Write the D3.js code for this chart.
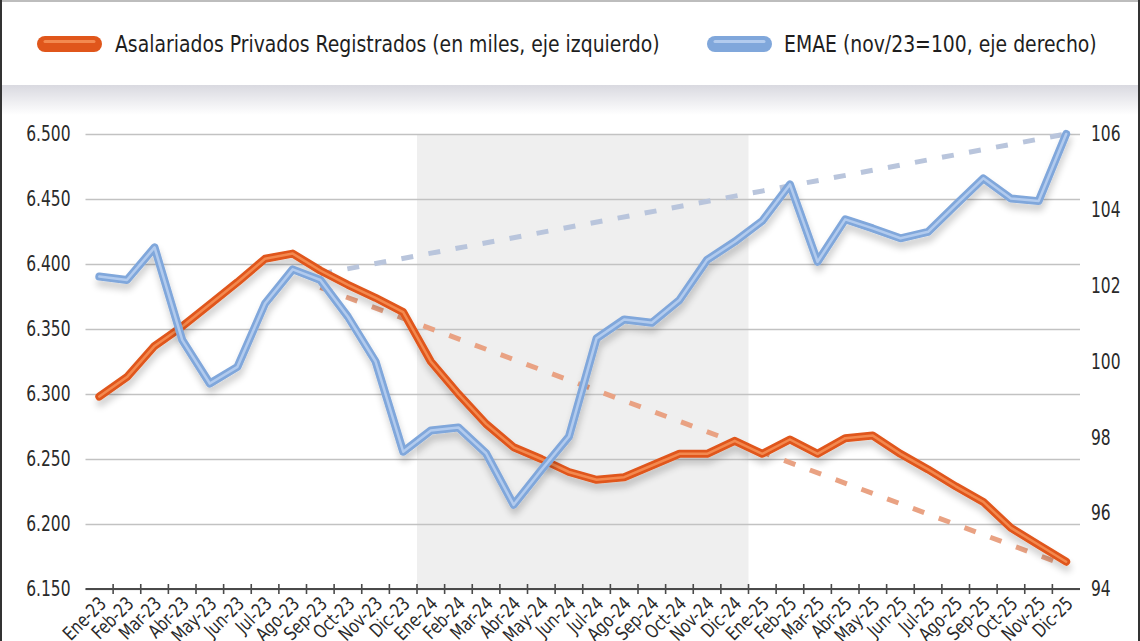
<!DOCTYPE html>
<html>
<head>
<meta charset="utf-8">
<script src="https://cdn.jsdelivr.net/npm/d3@7"></script>
<style>
  body { margin: 0; background: #fff; }
  svg { display: block; font-family: "Liberation Sans Narrow", "DejaVu Sans Condensed", sans-serif; }
</style>
</head>
<body>
<svg id="chart"></svg>
<script>
// Asalariados privados registrados vs EMAE

const categorias = [
    "Ene-23", "Feb-23", "Mar-23", "Abr-23", "May-23", "Jun-23", "Jul-23", "Ago-23", "Sep-23", "Oct-23", "Nov-23", "Dic-23",
    "Ene-24", "Feb-24", "Mar-24", "Abr-24", "May-24", "Jun-24", "Jul-24", "Ago-24", "Sep-24", "Oct-24", "Nov-24", "Dic-24",
    "Ene-25", "Feb-25", "Mar-25", "Abr-25", "May-25", "Jun-25", "Jul-25", "Ago-25", "Sep-25", "Oct-25", "Nov-25", "Dic-25"
]

// en miles (eje izquierdo)
const asalariados = [
    6298, 6313, 6337, 6352, 6369, 6386, 6404, 6408, 6395, 6384, 6374, 6363,
    6325, 6300, 6277, 6259, 6250, 6240, 6234, 6236, 6245, 6254, 6254, 6264,
    6254, 6265, 6254, 6266, 6268, 6254, 6242, 6229, 6217, 6197, 6184, 6171
]

// nov/23 = 100 (eje derecho)
const emae = [
    102.24, 102.15, 103.01, 100.57, 99.42, 99.86, 101.53, 102.43, 102.15, 101.18, 100.0, 97.62,
    98.18, 98.26, 97.58, 96.22, 97.14, 98.02, 100.61, 101.11, 101.02, 101.62, 102.68, 103.16,
    103.71, 104.67, 102.63, 103.75, 103.51, 103.25, 103.42, 104.13, 104.83, 104.30, 104.23, 106.0
]

// lineas de tendencia punteadas (inicio, fin)
const tendenciaAsalariados = [{ cat: "Sep-23", value: 6382 }, { cat: "Dic-25", value: 6168 }]
const tendenciaEmae = [{ cat: "Sep-23", value: 102.31 }, { cat: "Dic-25", value: 106.0 }]

// periodo sombreado
const sombreado = ["Ene-24", "Dic-24"]

const ticksIzq = [6150, 6200, 6250, 6300, 6350, 6400, 6450, 6500]
const ticksDer = [94, 96, 98, 100, 102, 104, 106]

const leyenda = [
    { label: "Asalariados Privados Registrados (en miles, eje izquierdo)", color: "#E0561B", core: "#F3894F" },
    { label: "EMAE (nov/23=100, eje derecho)", color: "#80A7DB", core: "#B2CBEE" }
]

// Definiciones
let svgWidth = 1140
let svgHeight = 641
let plot = { left: 85.5, right: 1080, top: 134, bottom: 589 }

const svg = d3.select("#chart")
    .attr("width", svgWidth)
    .attr("height", svgHeight)

const fmtES = d3.formatLocale({ decimal: ",", thousands: ".", grouping: [3], currency: ["$", ""] }).format(",d")

// la fuente del original es condensada: se comprime el texto horizontalmente
function condensar(sel, factor) {
    sel.each(function () {
        const w = this.getComputedTextLength()
        d3.select(this).attr("textLength", w * factor).attr("lengthAdjust", "spacingAndGlyphs")
    })
}

// sombra de las lineas
const defs = svg.append("defs")
const filtro = defs.append("filter").attr("id", "sombra")
    .attr("x", "-5%").attr("y", "-20%").attr("width", "110%").attr("height", "150%")
filtro.append("feGaussianBlur").attr("in", "SourceAlpha").attr("stdDeviation", 3.5).attr("result", "blur")
filtro.append("feOffset").attr("in", "blur").attr("dx", 1).attr("dy", 6).attr("result", "off")
filtro.append("feComponentTransfer").attr("in", "off").attr("result", "sh")
    .append("feFuncA").attr("type", "linear").attr("slope", 0.2)
const merge = filtro.append("feMerge")
merge.append("feMergeNode").attr("in", "sh")
merge.append("feMergeNode").attr("in", "SourceGraphic")

const grad = defs.append("linearGradient").attr("id", "bandaSombra")
    .attr("x1", 0).attr("y1", 0).attr("x2", 0).attr("y2", 1)
grad.append("stop").attr("offset", "0%").attr("stop-color", "#D9D9E0")
grad.append("stop").attr("offset", "100%").attr("stop-color", "#ffffff")

// marco y caja de leyenda
svg.append("rect").attr("x", 0).attr("y", 85).attr("width", svgWidth).attr("height", 30)
    .attr("fill", "url(#bandaSombra)")
svg.append("line").attr("x1", 0).attr("x2", svgWidth).attr("y1", 1).attr("y2", 1)
    .attr("stroke", "#bdbdbd").attr("stroke-width", 2)
svg.append("line").attr("x1", 1).attr("x2", 1).attr("y1", 0).attr("y2", svgHeight)
    .attr("stroke", "#333").attr("stroke-width", 2)
svg.append("line").attr("x1", 1139).attr("x2", 1139).attr("y1", 0).attr("y2", svgHeight)
    .attr("stroke", "#333").attr("stroke-width", 2)

// leyenda
const legPos = [{ x: 37, tx: 115 }, { x: 707, tx: 784 }]
const legG = svg.append("g").selectAll("g").data(leyenda).join("g")
    .attr("transform", (d, i) => `translate(${legPos[i].x}, 44)`)
legG.append("rect").attr("x", 0).attr("y", -8).attr("width", 65).attr("height", 16).attr("rx", 8)
    .attr("fill", d => d.color)
legG.append("line").attr("x1", 8).attr("x2", 57).attr("y1", -2.5).attr("y2", -2.5)
    .attr("stroke", d => d.core).attr("stroke-width", 3).attr("stroke-linecap", "round")
legG.append("text")
    .attr("x", (d, i) => legPos[i].tx - legPos[i].x)
    .attr("y", 0)
    .attr("dy", "0.36em")
    .attr("font-size", 22.5)
    .attr("fill", "#1e1e1e")
    .text(d => d.label)
    .call(condensar, 0.93)

// Escalas
let xScale = d3.scaleBand()
    .domain(categorias)
    .range([plot.left, plot.right])
const bw = xScale.bandwidth()
const cx = c => xScale(c) + bw / 2

let yIzq = d3.scaleLinear().domain([6150, 6500]).range([plot.bottom, plot.top])
let yDer = d3.scaleLinear().domain([94, 106]).range([plot.bottom, plot.top])

// zona sombreada 2024
svg.append("rect")
    .attr("x", xScale(sombreado[0]))
    .attr("width", xScale(sombreado[1]) + bw - xScale(sombreado[0]))
    .attr("y", plot.top)
    .attr("height", plot.bottom - plot.top)
    .attr("fill", "#EFEFEF")

// grilla + eje izquierdo
const ejeIzq = svg.append("g")
    .attr("transform", `translate(${plot.left}, 0)`)
    .call(d3.axisLeft(yIzq).tickValues(ticksIzq).tickFormat(fmtES)
        .tickSizeInner(-(plot.right - plot.left)).tickSizeOuter(0).tickPadding(15))
ejeIzq.select(".domain").remove()
ejeIzq.selectAll("line").attr("stroke", "#C2C2C2").attr("stroke-width", 1.5)
ejeIzq.selectAll("text").attr("font-size", 21).attr("fill", "#2a2a2a")
    .attr("font-family", "Liberation Sans Narrow, DejaVu Sans Condensed, sans-serif")
    .call(condensar, 0.82)

// eje derecho
const ejeDer = svg.append("g")
    .attr("transform", `translate(${plot.right}, 0)`)
    .call(d3.axisRight(yDer).tickValues(ticksDer).tickSize(0).tickPadding(11))
ejeDer.select(".domain").remove()
ejeDer.selectAll("text").attr("font-size", 21).attr("fill", "#2a2a2a")
    .attr("font-family", "Liberation Sans Narrow, DejaVu Sans Condensed, sans-serif")
    .call(condensar, 0.82)

// eje X: marcas entre categorias
const ejeX = svg.append("g")
ejeX.append("line")
    .attr("x1", plot.left).attr("x2", plot.right)
    .attr("y1", plot.bottom).attr("y2", plot.bottom)
    .attr("stroke", "#4a4a4a").attr("stroke-width", 2)
ejeX.selectAll(".tick").data(categorias.slice(1)).join("line")
    .attr("x1", d => xScale(d)).attr("x2", d => xScale(d))
    .attr("y1", plot.bottom - 5).attr("y2", plot.bottom + 5)
    .attr("stroke", "#4a4a4a").attr("stroke-width", 1.6)
ejeX.selectAll("text").data(categorias).join("text")
    .attr("transform", d => `translate(${cx(d) + 8}, ${plot.bottom + 16}) rotate(-45)`)
    .attr("text-anchor", "end")
    .attr("font-size", 19)
    .attr("fill", "#2a2a2a")
    .text(d => d)
    .call(condensar, 0.86)

// tendencias punteadas
const lineaTend = (escala) => d3.line().x(d => cx(d.cat)).y(d => escala(d.value))
svg.append("path").datum(tendenciaEmae)
    .attr("d", lineaTend(yDer))
    .attr("fill", "none").attr("stroke", "#B9C5DC").attr("stroke-width", 5)
    .attr("stroke-dasharray", "12 15.5")
svg.append("path").datum(tendenciaAsalariados)
    .attr("d", lineaTend(yIzq))
    .attr("fill", "none").attr("stroke", "#E9A283").attr("stroke-width", 5)
    .attr("stroke-dasharray", "12 15.5")

// series
function dibujarSerie(valores, escala, estilo) {
    const linea = d3.line()
        .x((d, i) => cx(categorias[i]))
        .y(d => escala(d))
    const g = svg.append("g").attr("filter", "url(#sombra)")
    g.append("path").datum(valores)
        .attr("d", linea)
        .attr("fill", "none").attr("stroke", estilo.color).attr("stroke-width", 8)
        .attr("stroke-linejoin", "round").attr("stroke-linecap", "round")
    g.append("path").datum(valores)
        .attr("d", linea)
        .attr("fill", "none").attr("stroke", estilo.core).attr("stroke-width", 2.5)
        .attr("stroke-linejoin", "round").attr("stroke-linecap", "round")
}

dibujarSerie(asalariados, yIzq, leyenda[0])
dibujarSerie(emae, yDer, leyenda[1])
</script>
</body>
</html>
